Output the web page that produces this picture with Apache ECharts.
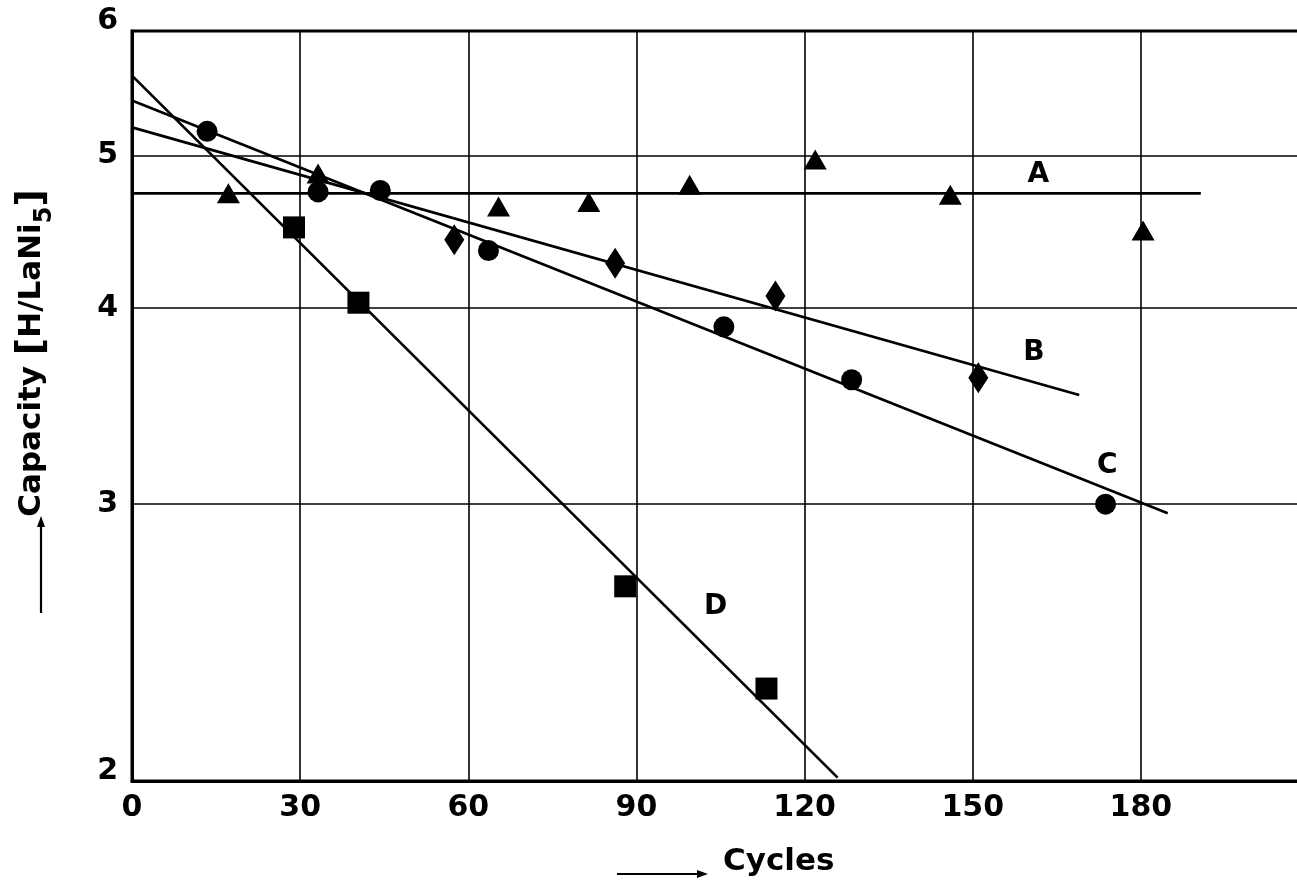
<!DOCTYPE html>
<html>
<head>
<meta charset="utf-8">
<script src="https://cdn.jsdelivr.net/npm/echarts@6/dist/echarts.min.js"></script>
<style>
html,body{margin:0;padding:0;background:#fff;}
#chart{width:1297px;height:885px;}
</style>
</head>
<body>
<div id="chart"></div>
<script>
// ---- data ----
const xTicks = [0, 30, 60, 90, 120, 150, 180];
const yTicks = [2, 3, 4, 5, 6];

const triX = [17.2, 33.2, 65.4, 81.5, 99.5, 121.9, 146.0, 180.4];
const triY = [4.73, 4.87, 4.64, 4.67, 4.79, 4.97, 4.72, 4.48];

const diaX = [57.5, 86.2, 114.8, 151.0];
const diaY = [4.42, 4.27, 4.07, 3.61];

const cirX = [13.4, 33.2, 44.3, 63.6, 105.6, 128.4, 173.7];
const cirY = [5.18, 4.74, 4.75, 4.35, 3.89, 3.60, 3.00];

const sqX = [28.9, 40.4, 88.0, 113.2];
const sqY = [4.50, 4.03, 2.66, 2.29];

const fitAX = [0, 190.7], fitAY = [4.73, 4.73];
const fitBX = [0, 169.0], fitBY = [5.21, 3.52];
const fitCX = [0, 184.8], fitCY = [5.42, 2.96];
const fitDX = [0, 125.9], fitDY = [5.62, 2.01];

const curveNames = ['A', 'B', 'C', 'D'];
const curveLabelX = [161.8, 161.0, 174.1, 104.2];
const curveLabelY = [4.86, 3.74, 3.17, 2.58];

const xTitle = 'Cycles';
const yTitleMain = 'Capacity';
const yTitleUnit = 'H/LaNi';
const yTitleSub = '5';

// ---- build ----
const FONT = '"DejaVu Sans", "Liberation Sans", sans-serif';
const zip = (xs, ys) => xs.map((x, i) => [x, ys[i]]);
const chart = echarts.init(document.getElementById('chart'), null, {renderer: 'canvas'});

function fitSeries(xs, ys) {
  return {
    type: 'line', data: zip(xs, ys), showSymbol: false, symbol: 'none',
    lineStyle: {color: '#000', width: 2.7}, silent: true, z: 3, animation: false
  };
}
function markerSeries(xs, ys, symbol, size) {
  return {
    type: 'scatter', data: zip(xs, ys), symbol: symbol, symbolSize: size,
    itemStyle: {color: '#000', opacity: 1}, silent: true, z: 5, animation: false
  };
}

const option = {
  backgroundColor: '#fff',
  animation: false,
  grid: {left: 132, top: 31, width: 1177, height: 750, show: true,
         outerBoundsMode: 'none', containLabel: false,
         borderColor: '#000', borderWidth: 3, backgroundColor: 'transparent'},
  xAxis: {
    type: 'value', min: 0, max: 210, interval: 30,
    axisLine: {show: true, onZero: false, lineStyle: {color: '#000', width: 3}},
    axisTick: {show: false},
    splitLine: {show: true, lineStyle: {color: '#000', width: 1.6}},
    axisLabel: {
      margin: 12, color: '#000', fontFamily: FONT, fontWeight: 'bold', fontSize: 30,
      formatter: v => (xTicks.indexOf(v) >= 0 ? String(v) : '')
    }
  },
  yAxis: {
    type: 'log', logBase: 10, min: 2, max: 6,
    axisLine: {show: true, onZero: false, lineStyle: {color: '#000', width: 3}},
    axisTick: {show: false},
    axisLabel: {show: false},
    splitLine: {show: false}
  },
  series: [
    Object.assign(fitSeries(fitAX, fitAY), {
      markLine: {
        silent: true, symbol: ['none', 'none'], animation: false,
        lineStyle: {color: '#000', width: 1.6, type: 'solid'},
        label: {show: true, position: 'start', distance: 14, formatter: '{b}',
                color: '#000', fontFamily: FONT, fontWeight: 'bold', fontSize: 30},
        data: yTicks.map(v => {
          const item = {yAxis: v, name: String(v)};
          if (v === 6 || v === 2) item.label = {verticalAlign: 'bottom', lineHeight: 20};
          return item;
        })
      }
    }),
    fitSeries(fitBX, fitBY),
    fitSeries(fitCX, fitCY),
    fitSeries(fitDX, fitDY),
    markerSeries(triX, triY, 'triangle', [23, 20]),
    markerSeries(diaX, diaY, 'diamond', [20, 31]),
    markerSeries(cirX, cirY, 'circle', 21),
    markerSeries(sqX, sqY, 'rect', [22, 22]),
    {
      type: 'scatter', symbolSize: 1, silent: true, z: 6, animation: false,
      itemStyle: {color: '#000', opacity: 0},
      data: curveNames.map((n, i) => ({name: n, value: [curveLabelX[i], curveLabelY[i]]})),
      label: {show: true, position: [0, 0], align: 'center', verticalAlign: 'middle',
              formatter: '{b}', color: '#000', opacity: 1, textBorderWidth: 0,
              fontFamily: FONT, fontWeight: 'bold', fontSize: 28}
    }
  ],
  graphic: [
    {
      type: 'text', x: 32, y: 353, rotation: Math.PI / 2, silent: true,
      style: {
        text: '{t|' + yTitleMain + ' }{br|[}{t|' + yTitleUnit + '}{sub|' + yTitleSub + '}{br|]}',
        align: 'center', verticalAlign: 'middle', fill: '#000',
        rich: {
          t: {fontFamily: FONT, fontWeight: 'bold', fontSize: 31, lineHeight: 42, fill: '#000'},
          br: {fontFamily: FONT, fontWeight: 'bold', fontSize: 38, lineHeight: 42, fill: '#000'},
          sub: {fontFamily: FONT, fontWeight: 'bold', fontSize: 24, lineHeight: 50,
                verticalAlign: 'bottom', fill: '#000'}
        }
      }
    },
    {type: 'line', silent: true, shape: {x1: 41, y1: 613, x2: 41, y2: 524},
     style: {stroke: '#000', lineWidth: 2.2}},
    {type: 'polygon', silent: true, shape: {points: [[41, 516], [37, 527], [45, 527]]},
     style: {fill: '#000'}},
    {
      type: 'text', x: 723, y: 862, silent: true,
      style: {text: xTitle, align: 'left', verticalAlign: 'middle', fill: '#000',
              font: 'bold 31px ' + FONT}
    },
    {type: 'line', silent: true, shape: {x1: 617, y1: 874, x2: 700, y2: 874},
     style: {stroke: '#000', lineWidth: 2.2}},
    {type: 'polygon', silent: true, shape: {points: [[708, 874], [697, 870], [697, 878]]},
     style: {fill: '#000'}}
  ]
};
chart.setOption(option);
</script>
</body>
</html>
